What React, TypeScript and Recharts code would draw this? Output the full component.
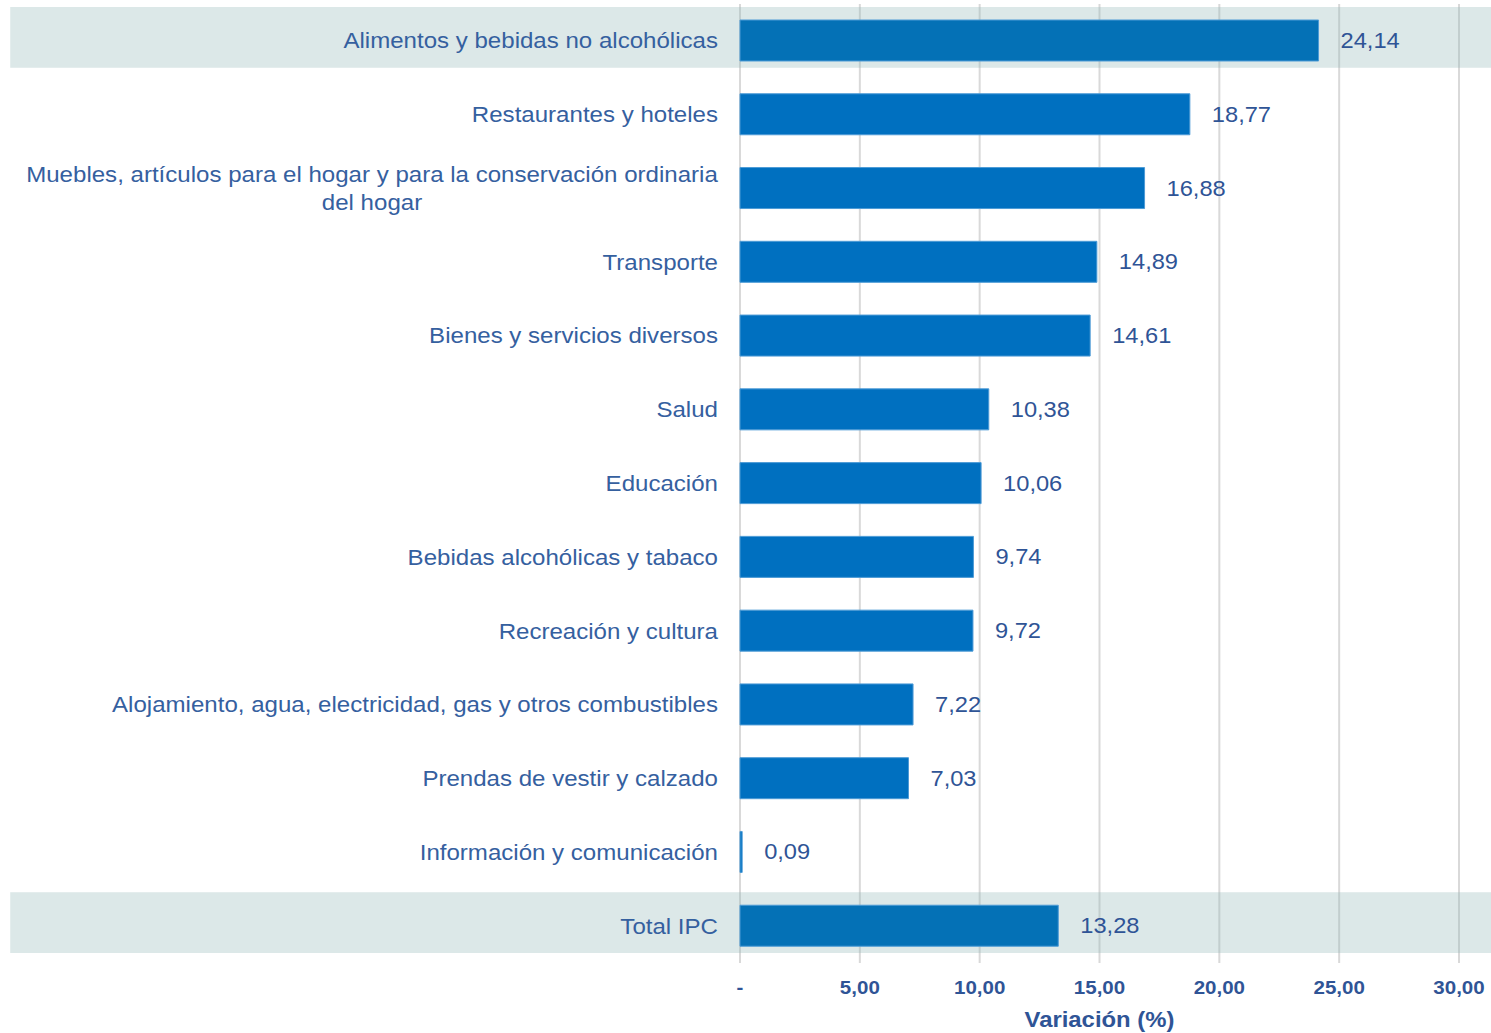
import { BarChart, Bar, XAxis, YAxis, CartesianGrid, ReferenceArea, LabelList, Cell, Label } from 'recharts'

const categories = [
  'Alimentos y bebidas no alcohólicas',
  'Restaurantes y hoteles',
  'Muebles, artículos para el hogar y para la conservación ordinaria\ndel hogar',
  'Transporte',
  'Bienes y servicios diversos',
  'Salud',
  'Educación',
  'Bebidas alcohólicas y tabaco',
  'Recreación y cultura',
  'Alojamiento, agua, electricidad, gas y otros combustibles',
  'Prendas de vestir y calzado',
  'Información y comunicación',
  'Total IPC',
]

const values = [24.14, 18.77, 16.88, 14.89, 14.61, 10.38, 10.06, 9.74, 9.72, 7.22, 7.03, 0.09, 13.28]

const highlighted = ['Alimentos y bebidas no alcohólicas', 'Total IPC']

const xTicks = [0, 5, 10, 15, 20, 25, 30]

const data = categories.map((name, i) => ({ name, value: values[i] }))

const FONT = '"Liberation Sans", Arial, sans-serif'
const LABEL_COLOR = '#35609f'
const VALUE_COLOR = '#2f5496'
const BAR_COLOR = '#0070c0'
const BAR_COLOR_HL = '#0471b6'
// the source text is drawn a little wider than plain Arial
const SX = 1.12

function fmt(v: number) {
  return v.toFixed(2).replace('.', ',')
}

function stretch(ax: number, sx = SX) {
  return `translate(${ax} 0) scale(${sx} 1) translate(${-ax} 0)`
}

let ctx: CanvasRenderingContext2D | null = null
function measure(text: string, size: number) {
  if (!ctx) ctx = document.createElement('canvas').getContext('2d')
  if (!ctx) return text.length * size * 0.5
  ctx.font = `${size}px ${FONT}`
  return ctx.measureText(text).width
}

function CategoryTick(props: { x?: number; y?: number; payload?: { value: string } }) {
  const { x = 0, y = 0, payload } = props
  if (!payload) return null
  const lines = payload.value.split('\n')
  const size = 21.5
  if (lines.length === 1) {
    return (
      <text x={x} y={y} dy="0.35em" textAnchor="end" fill={LABEL_COLOR} fontSize={size} fontFamily={FONT} transform={stretch(x)}>
        {lines[0]}
      </text>
    )
  }
  const w = Math.max(...lines.map((l) => measure(l, size)))
  const cx = x - w / 2
  const lh = 28
  return (
    <text textAnchor="middle" fill={LABEL_COLOR} fontSize={size} fontFamily={FONT} transform={stretch(x)}>
      {lines.map((l, i) => (
        <tspan key={i} x={cx} y={y + (i - (lines.length - 1) / 2) * lh} dy="0.35em">
          {l}
        </tspan>
      ))}
    </text>
  )
}

function ValueTick(props: { x?: number; y?: number; payload?: { value: number } }) {
  const { x = 0, y = 0, payload } = props
  if (!payload) return null
  return (
    <text x={x} y={y} dy="0.71em" textAnchor="middle" fill={VALUE_COLOR} fontSize={18.5} fontWeight="bold" fontFamily={FONT} transform={stretch(x, 1.11)}>
      {payload.value === 0 ? '-' : fmt(payload.value)}
    </text>
  )
}

function AxisTitle(props: { viewBox?: { x: number; y: number; width: number; height: number } }) {
  const vb = props.viewBox
  if (!vb) return null
  const cx = vb.x + vb.width / 2
  return (
    <text x={cx} y={vb.y + vb.height - 6} textAnchor="middle" fill={VALUE_COLOR} fontSize={21.5} fontWeight="bold" fontFamily={FONT} transform={stretch(cx, 1.11)}>
      Variación (%)
    </text>
  )
}

function BarValue(props: { x?: number; y?: number; width?: number; height?: number; value?: number }) {
  const { x = 0, y = 0, width = 0, height = 0, value = 0 } = props
  const tx = x + width + 22
  return (
    <text x={tx} y={y + height / 2} dy="0.35em" fill={VALUE_COLOR} fontSize={21.5} fontFamily={FONT} transform={stretch(tx, 1.1)}>
      {fmt(value)}
    </text>
  )
}

function Band(props: { x?: number; y?: number; width?: number; height?: number }) {
  const { x = 0, y = 0, width = 0, height = 0 } = props
  return <rect x={x} y={y + 3} width={width} height={height - 13} fill="#93b9b9" fillOpacity={0.32} />
}

export default function App() {
  return (
    <div style={{ position: 'absolute', left: 0, top: 0, background: '#fff' }}>
      <BarChart
        width={1491}
        height={1033}
        data={data}
        layout="vertical"
        margin={{ top: 4, right: 32, left: 0, bottom: 0 }}
        barSize={41}
      >
        <CartesianGrid horizontal={false} stroke="#d9d9d9" strokeWidth={2} />
        <XAxis
          type="number"
          domain={[0, 30]}
          ticks={xTicks}
          axisLine={false}
          tickLine={false}
          tickSize={0}
          tickMargin={18}
          height={70}
          tick={<ValueTick />}
        >
          <Label content={<AxisTitle />} />
        </XAxis>
        <YAxis
          type="category"
          dataKey="name"
          width={740}
          axisLine={false}
          tickLine={false}
          tickSize={0}
          tickMargin={22}
          interval={0}
          tick={<CategoryTick />}
        />
        {highlighted.map((c) => (
          <ReferenceArea key={c} y1={c} y2={c} x1={-30.45} x2={31.35} ifOverflow="visible" shape={<Band />} />
        ))}
        <Bar dataKey="value" isAnimationActive={false} stroke="#4d9bd6" strokeWidth={1}>
          {data.map((d) => (
            <Cell key={d.name} fill={highlighted.includes(d.name) ? BAR_COLOR_HL : BAR_COLOR} />
          ))}
          <LabelList dataKey="value" content={<BarValue />} />
        </Bar>
      </BarChart>
    </div>
  )
}
